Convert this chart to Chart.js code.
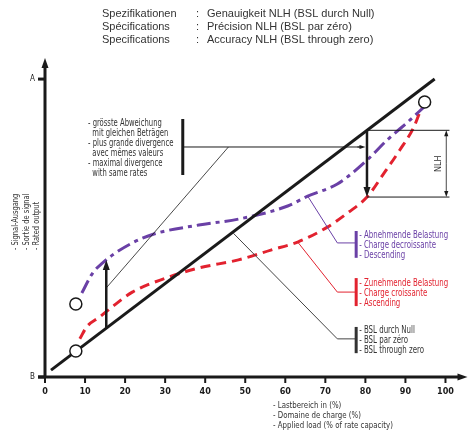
<!DOCTYPE html>
<html>
<head>
<meta charset="utf-8">
<script src="https://cdn.jsdelivr.net/npm/chart.js@4.4.1/dist/chart.umd.min.js"></script>
<style>
  body { margin: 0; background: #fff; }
</style>
</head>
<body>
<canvas id="nlh-diagram" width="473" height="433"></canvas>
<script>
const xTicks = [0, 10, 20, 30, 40, 50, 60, 70, 80, 90, 100];
const yTickValues = [0, 100];
const yTickLabels = ["B", "A"];

// best straight line through zero
const bslX = [1.5, 97.3];
const bslY = [2.3, 100];

// descending load (purple)
const descX = [9.2, 11.9, 14.4, 16.8, 21.8, 27.2, 38.4, 48.3, 60.6, 65.6, 73, 80.4, 85.4, 91.1, 94.6];
const descY = [28.2, 34.9, 38.3, 40.9, 45, 48, 51, 53, 57.4, 60.7, 64.8, 72.8, 79.5, 86.2, 90.6];

// ascending load (red)
const ascX = [8.7, 10.4, 13.6, 16.1, 21.8, 30.2, 38.4, 48.3, 56.4, 63.1, 70.5, 75.5, 80.4, 84.7, 88.6, 92.1, 94];
const ascY = [12.8, 16.8, 20.1, 22.8, 28.5, 33.2, 36.6, 39.3, 42.6, 45.3, 50.3, 55, 60.4, 68.5, 76.2, 83.9, 90.3];

// open circles
const markX = [7.7, 7.7, 94.8];
const markY = [8.7, 24.5, 92.3];

// divergence arrows
const divX = [15.3, 80.4];
const divFrom = [16.4, 82.8];
const divTo = [39.3, 60.4];

const titleLeft = ["Spezifikationen", "Spécifications", "Specifications"];
const titleRight = ["Genauigkeit NLH (BSL durch Null)", "Précision NLH (BSL par zéro)", "Accuracy NLH (BSL through zero)"];
const noteLines = ["- grösste Abweichung", "  mit gleichen Beträgen", "- plus grande divergence", "  avec mêmes valeurs", "- maximal divergence", "  with same rates"];
const descLabels = ["- Abnehmende Belastung", "- Charge decroissante", "- Descending"];
const ascLabels = ["- Zunehmende Belastung", "- Charge croissante", "- Ascending"];
const bslLabels = ["- BSL durch Null", "- BSL par zéro", "- BSL through zero"];
const xTitle = ["- Lastbereich in (%)", "- Domaine de charge (%)", "- Applied load (% of rate capacity)"];
const yTitle = ["- Signal-Ausgang", "- Sortie de signal", "- Rated output"];

const PURPLE = "#6a40a6";
const RED = "#e2222f";
const INK = "#1a1a1a";
const TEXT = "#333";
const narrow = '"DejaVu Sans Condensed", "DejaVu Sans", sans-serif';

const toPoints = (xs, ys) => xs.map((x, i) => ({ x: x, y: ys[i] }));

function arrow(ctx, x1, y1, x2, y2, head, width) {
  const a = Math.atan2(y2 - y1, x2 - x1);
  ctx.lineWidth = width;
  ctx.beginPath();
  ctx.moveTo(x1, y1);
  ctx.lineTo(x2 - head * 0.6 * Math.cos(a), y2 - head * 0.6 * Math.sin(a));
  ctx.stroke();
  const w = head * 0.35;
  ctx.beginPath();
  ctx.moveTo(x2, y2);
  ctx.lineTo(x2 - head * Math.cos(a) + w * Math.sin(a), y2 - head * Math.sin(a) - w * Math.cos(a));
  ctx.lineTo(x2 - head * Math.cos(a) - w * Math.sin(a), y2 - head * Math.sin(a) + w * Math.cos(a));
  ctx.closePath();
  ctx.fill();
}

function line(ctx, pts, color, width) {
  ctx.strokeStyle = color;
  ctx.lineWidth = width;
  ctx.beginPath();
  pts.forEach((p, i) => (i ? ctx.lineTo(p[0], p[1]) : ctx.moveTo(p[0], p[1])));
  ctx.stroke();
}

// squeeze narrows the glyphs a bit, the original uses a condensed face
function textBlock(ctx, lines, x, y, step, color, font, squeeze) {
  ctx.save();
  ctx.fillStyle = color;
  ctx.font = font;
  ctx.textAlign = "left";
  ctx.textBaseline = "middle";
  ctx.translate(x, y);
  ctx.scale(squeeze || 1, 1);
  lines.forEach((t, i) => ctx.fillText(t, 0, i * step));
  ctx.restore();
}

const sketchPlugin = {
  id: "sketch",
  afterDatasetsDraw(chart) {
    const ctx = chart.ctx;
    const sx = chart.scales.x;
    const sy = chart.scales.y;
    const X = (v) => sx.getPixelForValue(v);
    const Y = (v) => sy.getPixelForValue(v);
    const x0 = X(0), y0 = Y(0);

    ctx.save();
    ctx.strokeStyle = INK;
    ctx.fillStyle = INK;
    ctx.lineCap = "butt";

    // axes with arrows
    arrow(ctx, x0, y0 + 1, x0, chart.chartArea.top - 2, 10, 3);
    arrow(ctx, x0 - 7, y0, chart.chartArea.right + 2, y0, 10, 3);

    // x ticks
    ctx.lineWidth = 2;
    ctx.font = "bold 9px " + narrow;
    ctx.textAlign = "center";
    ctx.textBaseline = "middle";
    xTicks.forEach((t) => {
      ctx.beginPath();
      ctx.moveTo(X(t), y0);
      ctx.lineTo(X(t), y0 + 6);
      ctx.stroke();
      ctx.fillText(String(t), X(t), y0 + 15);
    });

    // y ticks
    ctx.font = "8px " + narrow;
    ctx.textAlign = "right";
    yTickValues.forEach((v, i) => {
      ctx.lineWidth = 3;
      ctx.beginPath();
      ctx.moveTo(x0 - 7, Y(v));
      ctx.lineTo(x0, Y(v));
      ctx.stroke();
      ctx.fillText(yTickLabels[i], x0 - 10, Y(v));
    });

    // divergence arrows
    arrow(ctx, X(divX[0]), Y(divFrom[0]), X(divX[0]), Y(divTo[0]), 10, 2.5);
    arrow(ctx, X(divX[1]), Y(divFrom[1]), X(divX[1]), Y(divTo[1]), 10, 2.5);

    // NLH bracket
    const nx = X(100.2);
    line(ctx, [[X(divX[1]), Y(divFrom[1])], [X(101), Y(divFrom[1])]], INK, 1);
    line(ctx, [[X(divX[1]), Y(divTo[1])], [X(101), Y(divTo[1])]], INK, 1);
    ctx.fillStyle = INK;
    const my = (Y(divFrom[1]) + Y(divTo[1])) / 2;
    arrow(ctx, nx, my, nx, Y(divFrom[1]), 6, 0.8);
    arrow(ctx, nx, my, nx, Y(divTo[1]), 6, 0.8);
    ctx.save();
    ctx.translate(nx - 8, my);
    ctx.rotate(-Math.PI / 2);
    ctx.fillStyle = TEXT;
    ctx.font = "9px " + narrow;
    ctx.textAlign = "center";
    ctx.textBaseline = "middle";
    ctx.fillText("NLH", 0, 0);
    ctx.restore();

    // note for max divergence
    ctx.fillStyle = INK;
    line(ctx, [[X(34.4), Y(86.6)], [X(34.4), Y(67.8)]], INK, 3);
    line(ctx, [[X(34.4), Y(77.2)], [X(79.2), Y(77.2)]], INK, 1);
    ctx.fillStyle = INK;
    arrow(ctx, X(78), Y(77.2), X(divX[1]) - 1.5, Y(77.2), 6, 1);
    line(ctx, [[X(45.8), Y(77.2)], [X(divX[0]), Y(29.9)]], INK, 0.8);
    textBlock(ctx, noteLines, 88, 123, 10, TEXT, "10px " + narrow, 0.76);

    // legend leaders
    line(ctx, [[X(65.6), Y(60.7)], [X(73), Y(45)], [X(77.7), Y(45)]], PURPLE, 1);
    line(ctx, [[X(77.7), Y(49)], [X(77.7), Y(40)]], PURPLE, 3);
    textBlock(ctx, descLabels, X(77.7) + 3, Y(47.6), 10, PURPLE, "10px " + narrow, 0.78);

    line(ctx, [[X(63.1), Y(45.3)], [X(73), Y(28.5)], [X(77.7), Y(28.5)]], RED, 1);
    line(ctx, [[X(77.7), Y(33.2)], [X(77.7), Y(23.8)]], RED, 3);
    textBlock(ctx, ascLabels, X(77.7) + 3, Y(31.5), 10, RED, "10px " + narrow, 0.78);

    line(ctx, [[X(47), Y(48.3)], [X(73), Y(12.8)], [X(77.7), Y(12.8)]], "#444", 1);
    line(ctx, [[X(77.7), Y(16.8)], [X(77.7), Y(8)]], "#333", 3);
    textBlock(ctx, bslLabels, X(77.7) + 3, Y(15.8), 10, TEXT, "10px " + narrow, 0.78);

    // axis titles
    textBlock(ctx, xTitle, 273, 406, 10, TEXT, "9.5px " + narrow, 0.82);
    ctx.save();
    ctx.translate(16, 250);
    ctx.rotate(-Math.PI / 2);
    textBlock(ctx, yTitle, 0, 0, 10.5, TEXT, "9.5px " + narrow, 0.78);
    ctx.restore();

    // heading
    const head = "11px 'Liberation Sans', sans-serif";
    textBlock(ctx, titleLeft, 102, 14, 13, TEXT, head);
    textBlock(ctx, [":", ":", ":"], 196, 14, 13, TEXT, head);
    textBlock(ctx, titleRight, 207, 14, 13, TEXT, head);

    ctx.restore();
  },
};

new Chart(document.getElementById("nlh-diagram").getContext("2d"), {
  type: "line",
  data: {
    datasets: [
      {
        label: "marks",
        type: "scatter",
        data: toPoints(markX, markY),
        pointRadius: 6,
        pointBorderWidth: 1.5,
        pointBorderColor: INK,
        pointBackgroundColor: "#fff",
      },
      {
        label: "BSL",
        data: toPoints(bslX, bslY),
        borderColor: INK,
        borderWidth: 3,
        pointRadius: 0,
      },
      {
        label: "Descending",
        data: toPoints(descX, descY),
        borderColor: PURPLE,
        borderWidth: 3,
        borderDash: [14, 5, 4, 5],
        cubicInterpolationMode: "monotone",
        pointRadius: 0,
      },
      {
        label: "Ascending",
        data: toPoints(ascX, ascY),
        borderColor: RED,
        borderWidth: 3,
        borderDash: [10, 6],
        cubicInterpolationMode: "monotone",
        pointRadius: 0,
      },
    ],
  },
  options: {
    responsive: false,
    animation: false,
    layout: { padding: { left: 45, right: 3, top: 60, bottom: 56 } },
    scales: {
      x: { type: "linear", min: 0, max: 105, display: false },
      y: { type: "linear", min: 0, max: 106.4, display: false },
    },
    plugins: {
      legend: { display: false },
      tooltip: { enabled: false },
    },
  },
  plugins: [sketchPlugin],
});
</script>
</body>
</html>
